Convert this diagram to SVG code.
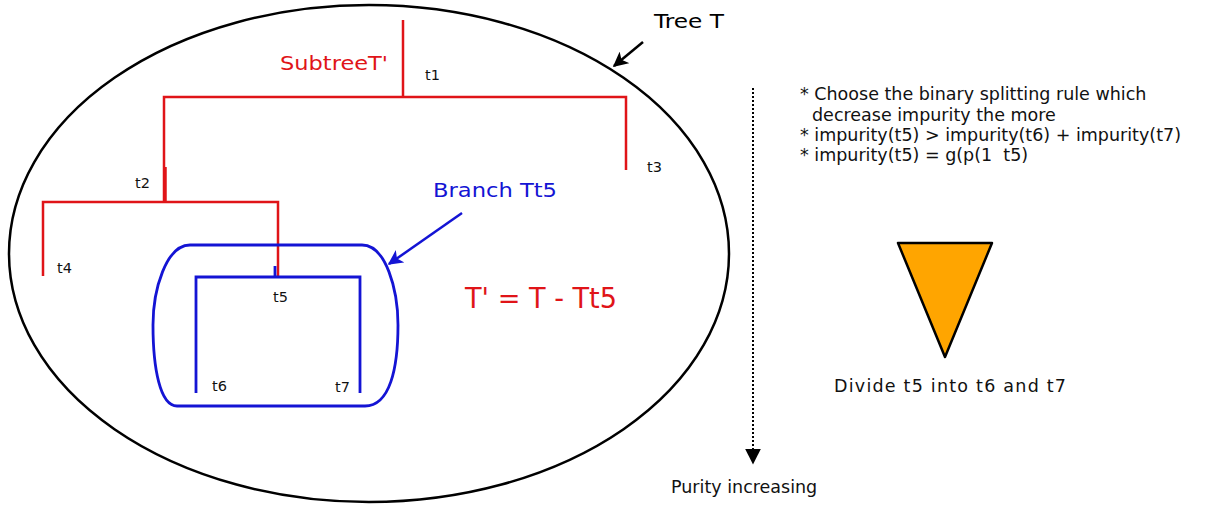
<svg xmlns="http://www.w3.org/2000/svg" width="1212" height="505" viewBox="0 0 1212 505">
  <style>
    text { font-family: "DejaVu Sans", "Liberation Sans", sans-serif; }
    .lbl { font-size: 14.5px; fill: #111; }
    .note { font-size: 17.5px; fill: #111; }
    .red { stroke: #e01418; stroke-width: 2.5; fill: none; }
    .blue { stroke: #1414d4; stroke-width: 2.8; fill: none; }
  </style>
  <defs>
    <marker id="headBlack" viewBox="0 0 10 10" refX="9" refY="5" markerWidth="6" markerHeight="6" orient="auto">
      <path d="M0,0 L10,5 L0,10 L2.5,5 Z" fill="#000"/>
    </marker>
    <marker id="headBlue" viewBox="0 0 10 10" refX="9" refY="5" markerWidth="6" markerHeight="6" orient="auto">
      <path d="M0,0 L10,5 L0,10 L2.5,5 Z" fill="#1414d4"/>
    </marker>
    <marker id="headDot" viewBox="0 0 10 10" refX="9" refY="5" markerWidth="8" markerHeight="8" orient="auto">
      <path d="M0,0 L10,5 L0,10 Z" fill="#000"/>
    </marker>
  </defs>
  <rect width="1212" height="505" fill="#fff"/>

  <!-- whole tree T -->
  <g id="treeT">
    <ellipse cx="369" cy="253.5" rx="360" ry="248.5" fill="none" stroke="#000" stroke-width="2.5"/>
    <text x="654" y="28" font-size="20" fill="#000" textLength="70" lengthAdjust="spacingAndGlyphs">Tree T</text>
  </g>

  <!-- subtree T' (red) -->
  <g id="subtree">
    <text x="280" y="70" font-size="20" fill="#e01418" textLength="108" lengthAdjust="spacingAndGlyphs">SubtreeT'</text>
    <path class="red" d="M403,20 V97" stroke-width="3.5"/>
    <path class="red" d="M626,170 V97 H164 V202"/>
    <path class="red" d="M165.5,167 V202" stroke-width="3.5"/>
    <path class="red" d="M43,276 V202 H278 V277"/>
    <text class="lbl" x="425" y="80">t1</text>
    <text class="lbl" x="135" y="188">t2</text>
    <text class="lbl" x="647" y="172">t3</text>
    <text class="lbl" x="57" y="273">t4</text>
  </g>

  <!-- branch Tt5 (blue) -->
  <g id="branch">
    <path class="blue" d="M190,245 H362 C386,245 398,290 398,325 C398,368 390,406 365,406 H177 C160,406 153,368 153,325 C153,290 166,245 190,245 Z"/>
    <path class="blue" d="M196,393 V277 H360 V393"/>
    <path class="blue" d="M275,266 V277" stroke-width="3"/>
    <text class="lbl" x="273" y="302">t5</text>
    <text class="lbl" x="212" y="391">t6</text>
    <text class="lbl" x="335" y="392">t7</text>
    <text x="433" y="197" font-size="20" fill="#1414d4" textLength="124" lengthAdjust="spacingAndGlyphs">Branch Tt5</text>
  </g>

  <g id="formula">
    <text x="465" y="308" font-size="28" fill="#e01418" textLength="152" lengthAdjust="spacingAndGlyphs">T' = T - Tt5</text>
  </g>

  <!-- connectors -->
  <g id="connectors">
    <line x1="643" y1="42" x2="614" y2="66" stroke="#000" stroke-width="2.5" marker-end="url(#headBlack)"/>
    <line x1="462" y1="213" x2="389" y2="264" stroke="#1414d4" stroke-width="2.5" marker-end="url(#headBlue)"/>
    <line x1="753" y1="88" x2="753" y2="463" stroke="#000" stroke-width="2" stroke-dasharray="2,2" marker-end="url(#headDot)"/>
  </g>

  <g id="purity">
    <text class="note" x="671" y="493">Purity increasing</text>
  </g>

  <g id="notes">
    <text class="note" x="800" y="100">* Choose the binary splitting rule which</text>
    <text class="note" x="812" y="121">decrease impurity the more</text>
    <text class="note" x="800" y="141">* impurity(t5) &gt; impurity(t6) + impurity(t7)</text>
    <text class="note" x="800" y="161" style="white-space: pre">* impurity(t5) = g(p(1  t5)</text>
  </g>

  <g id="divide">
    <polygon points="898,243 992,243 945,357" fill="#ffa500" stroke="#000" stroke-width="2.5" stroke-linejoin="round"/>
    <text class="note" x="834" y="392" textLength="232" lengthAdjust="spacing">Divide t5 into t6 and t7</text>
  </g>
</svg>
